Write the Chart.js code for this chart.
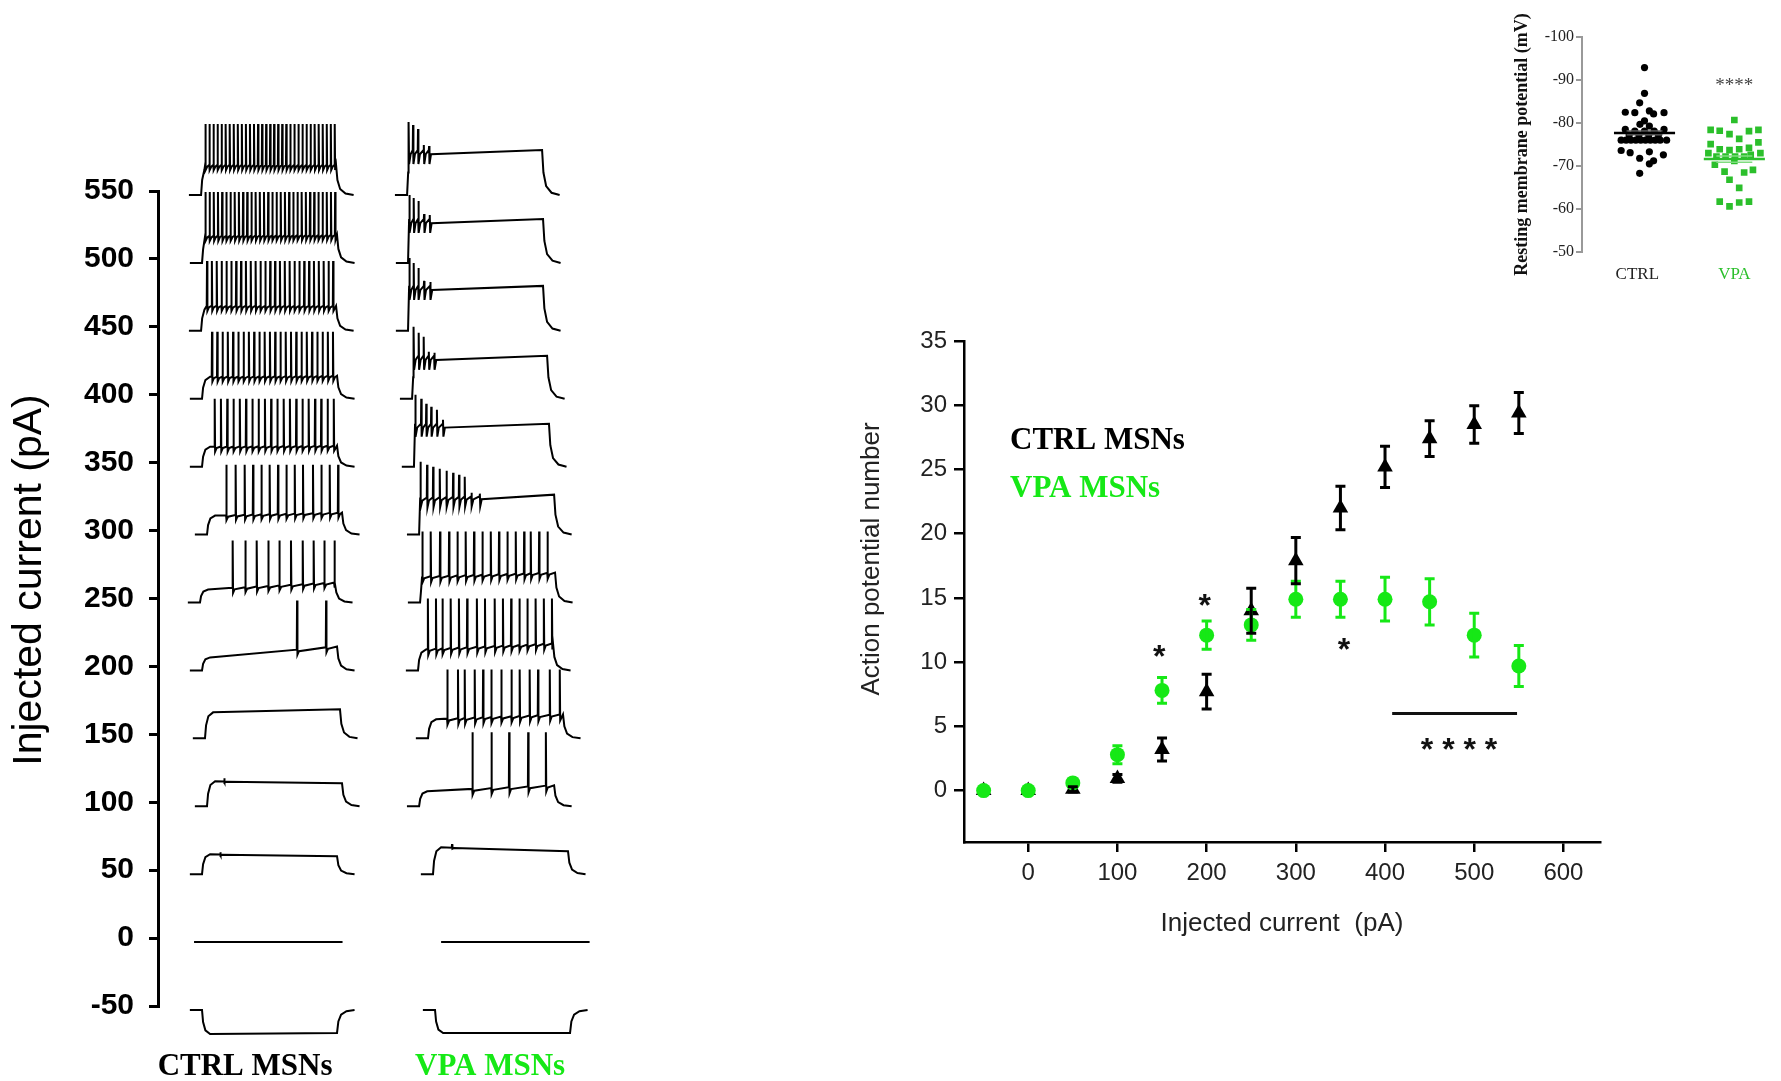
<!DOCTYPE html>
<html>
<head>
<meta charset="utf-8">
<script src="https://cdn.jsdelivr.net/npm/chart.js@4.4.1/dist/chart.umd.min.js"></script>
<style>
body { margin: 0; background: #fff; width: 1781px; height: 1081px; overflow: hidden; position: relative; }
canvas { position: absolute; }
#traces { left: 0; top: 0; }
#apChart { left: 840px; top: 290px; }
#rmpChart { left: 1500px; top: 0; }
</style>
</head>
<body>
<canvas id="traces" width="620" height="1081"></canvas>
<canvas id="apChart" width="800" height="660"></canvas>
<canvas id="rmpChart" width="281" height="290"></canvas>
<script>
// ---- left panel: example voltage traces, one row per current step ----
const levels = [550, 500, 450, 400, 350, 300, 250, 200, 150, 100, 50, 0, -50];
const traceLabels = ["CTRL MSNs", "VPA MSNs"];

// step onset of each row (ms, column time)
const ctrlOnset = [319, 326, 319, 326, 326, 363, 311, 326, 348, 363, 326, 267, 326];
const vpaOnset = [319, 326, 326, 356, 370, 408, 415, 400, 474, 408, 511, 571, 526];

// plateau depolarisation at start / end of the step (trace units)
const ctrlPlateau = [[30, 30], [27, 28], [25, 25], [22, 23], [20, 21], [19, 22], [13, 20], [13, 24], [26, 29], [25, 23], [20, 18], null, [-24, -23]];
const vpaPlateau = [[45, 45], [44, 44], [45, 45], [43, 43], [43, 43], [37, 40], [26, 30], [21, 27], [19, 24], [15, 21], [27, 23], null, [-23, -23]];

// spike times (ms after onset)
const ctrlSpikes = [
  [32, 62, 92, 122, 152, 182, 212, 242, 272, 302, 332, 362, 392, 422, 452, 482, 512, 541, 571, 601, 631, 661, 691, 721, 751, 781, 811, 841, 871, 901, 931, 961, 990],
  [25, 56, 87, 118, 149, 180, 211, 242, 273, 304, 335, 366, 397, 428, 459, 490, 521, 552, 583, 614, 645, 676, 707, 738, 769, 800, 831, 862, 893, 924, 955, 986],
  [44, 80, 116, 152, 188, 224, 260, 296, 332, 368, 404, 440, 476, 512, 548, 584, 620, 656, 692, 728, 764, 800, 836, 872, 908, 944, 978],
  [74, 113, 152, 191, 230, 269, 308, 347, 386, 425, 464, 503, 542, 581, 620, 659, 698, 737, 776, 815, 854, 893, 932, 970],
  [94, 140, 187, 233, 280, 326, 373, 419, 466, 512, 558, 605, 651, 698, 744, 790, 837, 883, 930, 976],
  [143, 212, 279, 341, 403, 464, 526, 588, 650, 711, 785, 847, 909, 971],
  [242, 336, 420, 506, 588, 674, 761, 842, 921, 995],
  [704, 919],
  [],
  [128],
  [136],
  [],
  []
];
const vpaSpikes = [
  [12, 44, 81, 124, 163],
  [10, 42, 77, 119, 161],
  [10, 42, 77, 119, 165],
  [12, 49, 86, 124, 165],
  [10, 54, 91, 128, 170, 215],
  [10, 59, 104, 153, 203, 252, 296, 338, 388, 450],
  [17, 79, 148, 215, 277, 338, 400, 462, 524, 585, 647, 709, 771, 820, 882, 944],
  [73, 133, 181, 242, 303, 364, 436, 496, 568, 629, 690, 751, 810, 871, 932, 992],
  [143, 222, 272, 346, 408, 469, 543, 618, 679, 753, 815, 902, 976],
  [395, 536, 667, 808, 939],
  [141],
  [],
  []
];
// spike peak above rest (one value for the row or one per spike)
const ctrlPeaks = [71, 71, 70, 67, 68, 70, 62, 70, 0, 28, 22, 0, 0];
const vpaPeaks = [
  [73, 70, 66, 50, 49], [68, 65, 62, 49, 48], [73, 68, 63, 50, 49], [72, 66, 62, 47, 46],
  [72, 68, 63, 60, 57, 47], [73, 70, 68, 66, 64, 62, 60, 58, 42, 41],
  71, 72, 69, 74, 30, 0, 0
];
const ctrlAhp = [5, 5, 5, 5, 5, 5, 5, 5, 0, 1, 1, 0, 0];
const vpaAhp = [14, 14, 14, 14, 13, 10, 6, 6, 6, 6, 1, 0, 0];

// ---- main panel: action potential number vs injected current ----
const currents = [-50, 0, 50, 100, 150, 200, 250, 300, 350, 400, 450, 500, 550];
const ctrlAP = [0, 0, 0.1, 0.95, 3.2, 7.7, 14.0, 17.9, 22.0, 25.2, 27.4, 28.5, 29.4];
const ctrlSEM = [0, 0, 0.2, 0.3, 0.9, 1.35, 1.75, 1.8, 1.7, 1.6, 1.4, 1.45, 1.6];
const vpaAP = [0, 0, 0.6, 2.8, 7.8, 12.1, 12.9, 14.9, 14.9, 14.9, 14.7, 12.1, 9.7];
const vpaSEM = [0, 0, 0, 0.7, 1.0, 1.1, 1.2, 1.4, 1.4, 1.7, 1.8, 1.7, 1.6];
const apXTicks = [0, 100, 200, 300, 400, 500, 600];
const apYTicks = [0, 5, 10, 15, 20, 25, 30, 35];
const starX = [147, 198, 354];
const starY = [11.0, 15.0, 11.6];
const sigLine = [408, 548, 6.0];
const sigLabel = [483, 3.8];

// ---- inset: resting membrane potential ----
const rmpTicks = [-100, -90, -80, -70, -60, -50];
const rmpGroups = ["CTRL", "VPA"];
const ctrlRMP = [-92.9, -86.9, -84.7, -82.5, -82.4, -82.8, -82.1, -82.4, -80.5, -79.7, -79.3, -78.5, -78.1, -78.1, -78.1, -78.5,
  -77.2, -77.2, -77.2, -77.2, -76.0, -76.0, -76.0, -76.0, -76.0, -76.0, -76.0, -76.0, -76.0, -76.0,
  -73.6, -73.1, -71.8, -73.3, -72.6, -70.5, -71.2, -68.3];
const ctrlSpread = [0, 0, -0.054, -0.214, -0.108, 0.054, 0.101, 0.217, 0, -0.051, 0.054, -0.214, -0.108, 0, 0.108, 0.217,
  -0.171, -0.062, 0.047, 0.155, -0.26, -0.205, -0.151, -0.097, -0.042, 0.011, 0.065, 0.119, 0.174, 0.246,
  -0.26, -0.16, -0.054, 0.054, 0.21, 0.054, 0.101, -0.054];
const vpaRMP = [-80.7, -78.4, -78.2, -77.4, -78.1, -78.4, -76.3, -75.1, -75.5, -73.9, -73.7, -73.9, -74.2, -73.0, -73.0,
  -72.2, -72.2, -72.2, -72.2, -72.6, -70.3, -71.2, -68.7, -68.5, -69.1, -66.8, -64.9, -61.7, -60.6, -61.5, -61.7];
const vpaSpread = [0, -0.264, -0.163, -0.054, 0.163, 0.268, 0.054, -0.264, 0.268, -0.163, -0.054, 0.054, 0.163, -0.289, 0.29,
  -0.199, -0.098, 0.008, 0.109, 0.182, -0.217, 0, -0.109, 0.109, 0.207, -0.054, 0.054, -0.163, -0.054, 0.054, 0.163];
const rmpMean = [-77.7, -71.6];
const rmpSEM = [0.45, 0.75];

const GREEN = '#16e816';
const GREEN_DARK = '#2bbf2b';
const SANS = 'Liberation Sans';
const SERIF = 'Liberation Serif';

// free text drawn at canvas positions
const freeText = {
  id: 'freeText',
  afterDraw(chart, args, opts) {
    const ctx = chart.ctx;
    (opts.items || []).forEach(it => {
      ctx.save();
      ctx.font = it.font;
      ctx.fillStyle = it.color;
      ctx.textAlign = it.align || 'center';
      ctx.textBaseline = 'middle';
      ctx.translate(it.x, it.y);
      if (it.rotate) ctx.rotate(it.rotate);
      ctx.fillText(it.text, 0, 0);
      ctx.restore();
    });
  }
};

// ---------- traces ----------
const PX = 50 / 68;   // current-axis units per trace unit
const STEP = 1000;    // step duration, ms
const VPA_SHIFT = 1526;

function buildTrace(level, onset, plat, spikes, peaks, ahp, shift) {
  const b = level - 4 * PX;
  const pts = [];
  if (!plat) {
    pts.push({x: onset, y: b}, {x: onset + 1100, y: b});
    return pts.map(p => ({x: p.x + shift, y: p.y}));
  }
  const [p0, p1] = plat;
  const v = t => b + (p0 + (p1 - p0) * t / STEP) * PX;
  const first = spikes.length ? spikes[0] : STEP;
  pts.push({x: onset - 90, y: b}, {x: onset, y: b});
  [[8, 0.5], [25, 0.85], [60, 1]].forEach(([dt, f]) => {
    if (dt < first - 3) pts.push({x: onset + dt, y: b + p0 * f * PX});
  });
  spikes.forEach((s, i) => {
    const h = Array.isArray(peaks) ? peaks[i] : peaks;
    const next = i + 1 < spikes.length ? spikes[i + 1] : STEP;
    const base = v(s);
    pts.push({x: onset + s - 2, y: base}, {x: onset + s, y: b + h * PX}, {x: onset + s + 3, y: base - ahp * PX});
    if (next - s > 24) pts.push({x: onset + s + 14, y: base - ahp * 0.3 * PX});
  });
  pts.push({x: onset + STEP, y: v(STEP)});
  [[10, 0.5], [30, 0.2], [70, 0.05], [130, 0]].forEach(([dt, f]) => pts.push({x: onset + STEP + dt, y: b + p1 * f * PX}));
  return pts.map(p => ({x: p.x + shift, y: p.y}));
}

const traceSets = [];
levels.forEach((lv, i) => {
  traceSets.push({data: buildTrace(lv, ctrlOnset[i], ctrlPlateau[i], ctrlSpikes[i], ctrlPeaks[i], ctrlAhp[i], 0)});
  traceSets.push({data: buildTrace(lv, vpaOnset[i], vpaPlateau[i], vpaSpikes[i], vpaPeaks[i], vpaAhp[i], VPA_SHIFT)});
});
traceSets.forEach(ds => Object.assign(ds, {
  showLine: true, borderColor: '#000', borderWidth: 2, pointRadius: 0, tension: 0, clip: false
}));

new Chart(document.getElementById('traces'), {
  type: 'scatter',
  data: {datasets: traceSets},
  options: {
    responsive: false, animation: false, devicePixelRatio: 1,
    layout: {padding: {top: 191, right: 20, left: 0, bottom: 0}},
    plugins: {
      legend: {display: false}, tooltip: {enabled: false},
      freeText: {items: [
        {text: 'Injected current (pA)', x: 30, y: 580, rotate: -Math.PI / 2, font: '41px "' + SANS + '"', color: '#000'}
      ]}
    },
    scales: {
      x: {
        type: 'linear', min: 0, max: 3274,
        afterBuildTicks: s => { s.ticks = [{value: 645}, {value: 2460}]; },
        afterFit: s => { s.height = 75; },
        grid: {display: false, drawTicks: false},
        border: {display: false},
        ticks: {
          autoSkip: false, maxRotation: 0, padding: 42,
          callback: (v, i) => traceLabels[i],
          color: c => c.index === 0 ? '#000' : GREEN,
          font: {family: SERIF, size: 31, weight: 'bold'}
        }
      },
      y: {
        type: 'linear', min: -50, max: 550,
        afterBuildTicks: s => { s.ticks = levels.map(v => ({value: v})); },
        afterFit: s => { s.width = 158; },
        grid: {drawOnChartArea: false, drawTicks: true, tickLength: 9, color: '#000', lineWidth: 3},
        border: {display: true, color: '#000', width: 3},
        ticks: {autoSkip: false, padding: 15, color: '#000', font: {family: SANS, size: 30, weight: 'bold'}}
      }
    }
  },
  plugins: [freeText]
});

// ---------- action potential number ----------
function drawBars(ctx, x, y, means, sems, color) {
  ctx.strokeStyle = color;
  ctx.lineWidth = 3;
  currents.forEach((c, i) => {
    if (sems[i] < 0.15) return;
    const px = x.getPixelForValue(c);
    const top = y.getPixelForValue(means[i] + sems[i]);
    const bot = y.getPixelForValue(means[i] - sems[i]);
    ctx.beginPath();
    ctx.moveTo(px, top); ctx.lineTo(px, bot);
    ctx.moveTo(px - 5, top); ctx.lineTo(px + 5, top);
    ctx.moveTo(px - 5, bot); ctx.lineTo(px + 5, bot);
    ctx.stroke();
  });
}

const apMarks = {
  id: 'apMarks',
  afterDatasetsDraw(chart) {
    const {ctx, scales: {x, y}} = chart;
    ctx.save();
    drawBars(ctx, x, y, vpaAP, vpaSEM, GREEN);
    drawBars(ctx, x, y, ctrlAP, ctrlSEM, '#000');
    ctx.fillStyle = '#111';
    ctx.font = 'bold 32px "' + SANS + '"';
    ctx.textAlign = 'center';
    ctx.textBaseline = 'alphabetic';
    starX.forEach((sx, i) => ctx.fillText('*', x.getPixelForValue(sx), y.getPixelForValue(starY[i]) + 18));
    ctx.fillText('* * * *', x.getPixelForValue(sigLabel[0]), y.getPixelForValue(sigLabel[1]) + 18);
    ctx.strokeStyle = '#111';
    ctx.lineWidth = 3;
    ctx.beginPath();
    ctx.moveTo(x.getPixelForValue(sigLine[0]), y.getPixelForValue(sigLine[2]));
    ctx.lineTo(x.getPixelForValue(sigLine[1]), y.getPixelForValue(sigLine[2]));
    ctx.stroke();
    ctx.restore();
  }
};

new Chart(document.getElementById('apChart'), {
  type: 'scatter',
  data: {
    datasets: [
      {label: 'VPA MSNs', data: currents.map((c, i) => ({x: c, y: vpaAP[i]})), pointStyle: 'circle', pointRadius: 7.5,
        backgroundColor: GREEN, borderColor: GREEN, borderWidth: 0, order: 0},
      {label: 'CTRL MSNs', data: currents.map((c, i) => ({x: c, y: ctrlAP[i]})), pointStyle: 'triangle', pointRadius: 9,
        backgroundColor: '#000', borderColor: '#000', borderWidth: 0, order: 1}
    ]
  },
  options: {
    responsive: false, animation: false, devicePixelRatio: 1,
    layout: {padding: {top: 51, right: 40, left: 0, bottom: 0}},
    plugins: {
      legend: {display: false}, tooltip: {enabled: false},
      freeText: {items: [
        {text: 'Action potential number', x: 32, y: 269, rotate: -Math.PI / 2, font: '26px "' + SANS + '"', color: '#222'},
        {text: 'CTRL MSNs', x: 170, y: 151, align: 'left', font: 'bold 31px "' + SERIF + '"', color: '#000'},
        {text: 'VPA MSNs', x: 170, y: 199, align: 'left', font: 'bold 31px "' + SERIF + '"', color: GREEN}
      ]}
    },
    scales: {
      x: {
        type: 'linear', min: -72, max: 641,
        afterBuildTicks: s => { s.ticks = apXTicks.map(v => ({value: v})); },
        afterFit: s => { s.height = 108; },
        grid: {drawOnChartArea: false, drawTicks: true, tickLength: 10, color: '#000', lineWidth: 2.5},
        border: {display: true, color: '#000', width: 2.5},
        ticks: {autoSkip: false, maxRotation: 0, padding: 7, color: '#222', font: {family: SANS, size: 24}},
        title: {display: true, text: 'Injected current  (pA)', color: '#222', font: {family: SANS, size: 26}, padding: {top: 0, bottom: 11}}
      },
      y: {
        type: 'linear', min: -4, max: 35,
        afterBuildTicks: s => { s.ticks = apYTicks.map(v => ({value: v})); },
        afterFit: s => { s.width = 124; },
        grid: {drawOnChartArea: false, drawTicks: true, tickLength: 10, color: '#000', lineWidth: 2.5},
        border: {display: true, color: '#000', width: 2.5},
        ticks: {autoSkip: false, padding: 7, color: '#222', font: {family: SANS, size: 24}}
      }
    }
  },
  plugins: [apMarks, freeText]
});

// ---------- resting membrane potential inset ----------
const rmpMarks = {
  id: 'rmpMarks',
  afterDatasetsDraw(chart) {
    const {ctx, scales: {x, y}} = chart;
    const hline = (x0, x1, v, col, w) => {
      ctx.strokeStyle = col; ctx.lineWidth = w;
      ctx.beginPath();
      ctx.moveTo(x.getPixelForValue(x0), y.getPixelForValue(v));
      ctx.lineTo(x.getPixelForValue(x1), y.getPixelForValue(v));
      ctx.stroke();
    };
    ctx.save();
    [['#000', '#666'], [GREEN_DARK, '#7fdc7f']].forEach(([col, semCol], g) => {
      const cx = g + 1;
      hline(cx - 0.2, cx + 0.2, rmpMean[g] - rmpSEM[g], semCol, 1.5);
      hline(cx - 0.2, cx + 0.2, rmpMean[g] + rmpSEM[g], semCol, 1.5);
      hline(cx - 0.34, cx + 0.34, rmpMean[g], col, 2.5);
    });
    ctx.fillStyle = '#444';
    ctx.font = '19px "' + SERIF + '"';
    ctx.textAlign = 'center';
    ctx.textBaseline = 'alphabetic';
    ctx.fillText('****', x.getPixelForValue(2), y.getPixelForValue(-89.7) + 10);
    ctx.restore();
  }
};

new Chart(document.getElementById('rmpChart'), {
  type: 'scatter',
  data: {
    datasets: [
      {data: ctrlRMP.map((v, i) => ({x: 1 + ctrlSpread[i], y: v})), pointStyle: 'circle', pointRadius: 3.6,
        backgroundColor: '#000', borderWidth: 0},
      {data: vpaRMP.map((v, i) => ({x: 2 + vpaSpread[i], y: v})), pointStyle: 'rect', pointRadius: 4.7,
        backgroundColor: GREEN_DARK, borderWidth: 0}
    ]
  },
  options: {
    responsive: false, animation: false, devicePixelRatio: 1,
    layout: {padding: {top: 37, right: 0, left: 0, bottom: 0}},
    plugins: {legend: {display: false}, tooltip: {enabled: false}},
    scales: {
      x: {
        type: 'linear', min: 0.304, max: 2.467,
        afterBuildTicks: s => { s.ticks = [{value: 0.92}, {value: 2.0}]; },
        afterFit: s => { s.height = 38; },
        grid: {display: false, drawTicks: false},
        border: {display: false},
        ticks: {
          autoSkip: false, maxRotation: 0, padding: 12,
          callback: (v, i) => rmpGroups[i],
          color: c => c.index === 0 ? '#222' : GREEN_DARK,
          font: {family: SERIF, size: 17}
        }
      },
      y: {
        type: 'linear', min: -100, max: -50, reverse: true,
        afterBuildTicks: s => { s.ticks = rmpTicks.map(v => ({value: v})); },
        afterFit: s => { s.width = 82; },
        grid: {drawOnChartArea: false, drawTicks: true, tickLength: 6, color: '#999', lineWidth: 2},
        border: {display: true, color: '#999', width: 2},
        ticks: {autoSkip: false, padding: 2, color: '#222', font: {family: SERIF, size: 16}},
        title: {display: true, text: 'Resting membrane potential (mV)', color: '#111',
          font: {family: SERIF, size: 18, weight: 'bold'}, padding: {top: 12, bottom: 0}}
      }
    }
  },
  plugins: [rmpMarks]
});
</script>
</body>
</html>
